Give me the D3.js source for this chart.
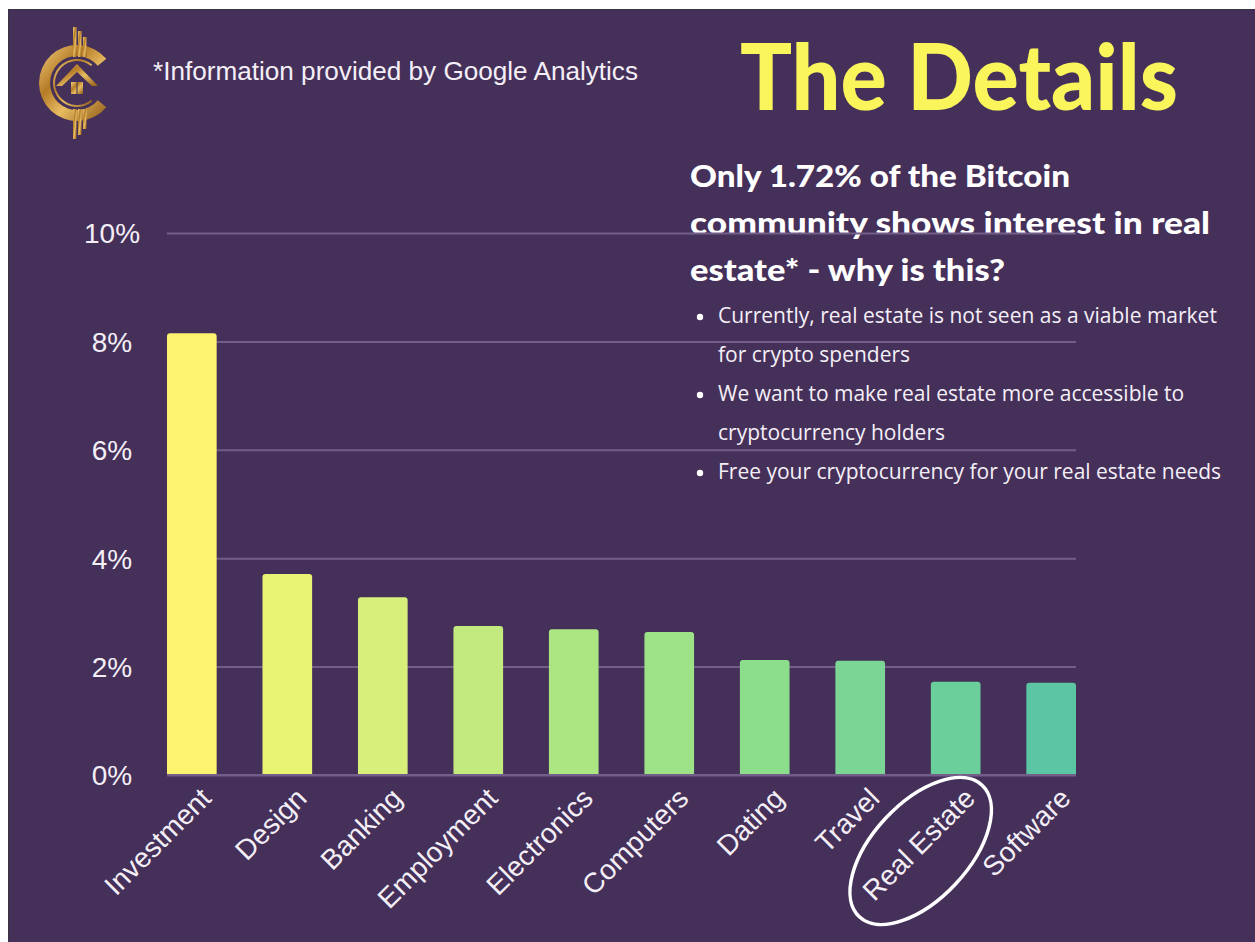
<!DOCTYPE html>
<html>
<head>
<meta charset="utf-8">
<script src="https://cdn.jsdelivr.net/npm/d3@7"></script>
<style>
  body { margin: 0; background: #ffffff; }
  svg { display: block; }
</style>
</head>
<body>
<svg id="chart"></svg>
<script>
// chart values (share of the Bitcoin community, %)
const categories = ['Investment', 'Design', 'Banking', 'Employment', 'Electronics',
    'Computers', 'Dating', 'Travel', 'Real Estate', 'Software'];
const shares = [8.15, 3.71, 3.28, 2.75, 2.69, 2.64, 2.12, 2.11, 1.72, 1.70];
const barColors = ['#fdf36f', '#e9f374', '#d6f07b', '#c2ea7f', '#ace683',
    '#9de286', '#8cde8d', '#7bd696', '#6bcf9c', '#5cc6a4'];
const yTicks = [0, 2, 4, 6, 8, 10];
const highlighted = 'Real Estate';

const noteText = '*Information provided by Google Analytics';
const titleText = 'The Details';
const subtitleLines = ['Only 1.72% of the Bitcoin', 'community shows interest in real', 'estate* - why is this?'];
const bulletLines = [
    {text: 'Currently, real estate is not seen as a viable market', dot: true},
    {text: 'for crypto spenders', dot: false},
    {text: 'We want to make real estate more accessible to', dot: true},
    {text: 'cryptocurrency holders', dot: false},
    {text: 'Free your cryptocurrency for your real estate needs', dot: true}
];

const W = 1255, H = 942;
const margin = {top: 233, right: 179, bottom: 167, left: 167};
const width = W - margin.left - margin.right;
const height = H - margin.top - margin.bottom;

const svg = d3.select('#chart')
    .attr('width', W)
    .attr('height', H);

// background panel
svg.append('rect')
    .attr('x', 8).attr('y', 9)
    .attr('width', W - 8).attr('height', H - 9)
    .attr('fill', '#45305a');
svg.append('line')
    .attr('x1', 8).attr('x2', W).attr('y1', 9.5).attr('y2', 9.5)
    .attr('stroke', '#3a3340').attr('stroke-width', 1);
svg.append('line')
    .attr('x1', 8.5).attr('x2', 8.5).attr('y1', 9).attr('y2', H)
    .attr('stroke', '#3a3340').attr('stroke-width', 1);

// logo
const defs = svg.append('defs');
const gold = defs.append('linearGradient')
    .attr('id', 'gold')
    .attr('x1', '0%').attr('y1', '0%').attr('x2', '100%').attr('y2', '100%');
gold.append('stop').attr('offset', '0%').attr('stop-color', '#f3cf7d');
gold.append('stop').attr('offset', '35%').attr('stop-color', '#b57b27');
gold.append('stop').attr('offset', '60%').attr('stop-color', '#e8bc62');
gold.append('stop').attr('offset', '100%').attr('stop-color', '#8f5a16');

const logo = svg.append('g').attr('transform', 'translate(77,83)');
const arc = d3.arc();
logo.append('path')
    .attr('d', arc({innerRadius: 27, outerRadius: 38, startAngle: Math.PI * 0.72, endAngle: Math.PI * 2.28}))
    .attr('fill', 'url(#gold)');
logo.append('path')
    .attr('d', arc({innerRadius: 22, outerRadius: 24, startAngle: Math.PI * 0.78, endAngle: Math.PI * 2.22}))
    .attr('fill', 'url(#gold)');
[[-4, 3.5, -56, 30], [1, 3.5, -52, 26], [6, 3.5, -46, 20]].forEach(b => {
    logo.append('rect').attr('x', b[0]).attr('width', b[1]).attr('y', b[2]).attr('height', b[3]).attr('fill', 'url(#gold)');
    logo.append('rect').attr('x', b[0]).attr('width', b[1]).attr('y', -b[2] - b[3]).attr('height', b[3]).attr('fill', 'url(#gold)');
});
logo.append('path')
    .attr('d', 'M0,-19 L21,3 L15,3 L0,-11 L-15,3 L-21,3 Z')
    .attr('fill', 'url(#gold)');
logo.append('rect')
    .attr('x', -6).attr('y', -1).attr('width', 12).attr('height', 12)
    .attr('fill', 'url(#gold)');
logo.append('line')
    .attr('x1', 0).attr('x2', 0).attr('y1', -1).attr('y2', 11)
    .attr('stroke', '#45305a').attr('stroke-width', 1);

// header texts
svg.append('text')
    .attr('x', 153).attr('y', 80)
    .attr('font-family', 'Liberation Sans, Arial, sans-serif')
    .attr('font-size', 25)
    .attr('fill', '#f4eff6')
    .attr('textLength', 485)
    .attr('lengthAdjust', 'spacingAndGlyphs')
    .text(noteText);

svg.append('text')
    .attr('x', 740).attr('y', 110)
    .attr('font-family', 'Lato, sans-serif')
    .attr('font-weight', 900)
    .attr('font-size', 92)
    .attr('fill', '#fbf55c')
    .attr('textLength', 438)
    .attr('lengthAdjust', 'spacingAndGlyphs')
    .text(titleText);

const subWidths = [380, 520, 315];
svg.selectAll('.subtitle')
    .data(subtitleLines)
    .join('text')
    .attr('class', 'subtitle')
    .attr('x', 690)
    .attr('y', (d, i) => 187 + i * 47)
    .attr('font-family', 'Lato, sans-serif')
    .attr('font-weight', 900)
    .attr('font-size', 31)
    .attr('fill', '#ffffff')
    .attr('textLength', (d, i) => subWidths[i])
    .attr('lengthAdjust', 'spacingAndGlyphs')
    .text(d => d);

// chart
const chart = svg.append('g')
    .attr('transform', `translate(${margin.left},${margin.top})`);

const xScale = d3.scaleBand()
    .domain(categories)
    .range([0, width])
    .paddingInner(0.48)
    .paddingOuter(0);

const yScale = d3.scaleLinear()
    .domain([0, 10])
    .range([height, 0]);

const yAxis = d3.axisLeft(yScale)
    .tickValues(yTicks)
    .tickSize(-width)
    .tickFormat(d => d + '%');

chart.append('g')
    .attr('class', 'y-axis')
    .call(yAxis)
    .call(g => g.select('.domain').remove())
    .call(g => g.selectAll('.tick line')
        .attr('stroke', '#735e8a')
        .attr('stroke-width', 2))
    .call(g => g.selectAll('.tick text')
        .attr('x', -55)
        .attr('dy', '0.35em')
        .attr('text-anchor', 'middle')
        .attr('font-family', 'Liberation Sans, Arial, sans-serif')
        .attr('font-size', 28)
        .attr('fill', '#f4eff6'));

const r = 3;
chart.selectAll('.bar')
    .data(categories)
    .join('path')
    .attr('class', 'bar')
    .attr('fill', (d, i) => barColors[i])
    .attr('d', (d, i) => {
        const x0 = xScale(d), x1 = x0 + xScale.bandwidth();
        const y0 = yScale(shares[i]), yb = yScale(0);
        return `M${x0},${yb} L${x0},${y0 + r} Q${x0},${y0} ${x0 + r},${y0} L${x1 - r},${y0} Q${x1},${y0} ${x1},${y0 + r} L${x1},${yb} Z`;
    });

// bottom axis line over bar bases
chart.append('line')
    .attr('x1', 0).attr('x2', width)
    .attr('y1', yScale(0)).attr('y2', yScale(0))
    .attr('stroke', '#735e8a').attr('stroke-width', 2);

chart.selectAll('.x-label')
    .data(categories)
    .join('text')
    .attr('class', 'x-label')
    .attr('transform', d => `translate(${xScale(d) + xScale.bandwidth() / 2 + 21},${yScale(0) + 25}) rotate(-45)`)
    .attr('text-anchor', 'end')
    .attr('font-family', 'Liberation Sans, Arial, sans-serif')
    .attr('font-size', 28)
    .attr('fill', '#f4eff6')
    .text(d => d);

// hand-drawn style ellipse around the highlighted category
chart.append('ellipse')
    .attr('transform', `translate(${xScale(highlighted) + xScale.bandwidth() / 2 - 35},${yScale(0) + 76}) rotate(-47)`)
    .attr('rx', 90).attr('ry', 48)
    .attr('fill', 'none')
    .attr('stroke', '#ffffff')
    .attr('stroke-width', 3.5);

// bullet notes, drawn over the grid
const notes = svg.append('g').attr('class', 'notes');
bulletLines.forEach((b, i) => {
    const y = 323 + i * 39;
    if (b.dot) {
        notes.append('circle').attr('cx', 700).attr('cy', y - 6).attr('r', 3.2).attr('fill', '#ffffff');
    }
    notes.append('text')
        .attr('x', 718).attr('y', y)
        .attr('font-family', 'Open Sans, sans-serif')
        .attr('font-size', 21)
        .attr('fill', '#f4eff6')
        .text(b.text);
});
</script>
</body>
</html>
